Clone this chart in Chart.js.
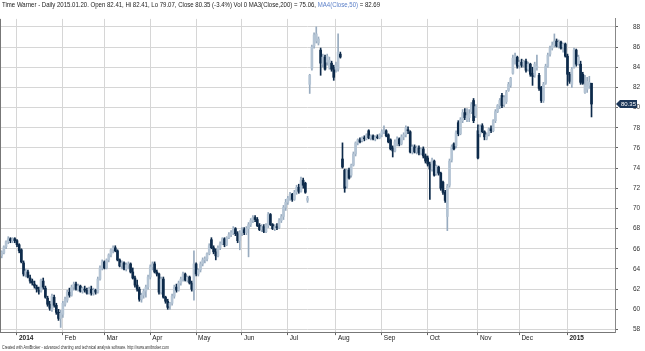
<!DOCTYPE html>
<html>
<head>
<meta charset="utf-8">
<script src="https://cdn.jsdelivr.net/npm/chart.js@4"></script>
<style>
  html, body { margin: 0; padding: 0; background: #fff; }
</style>
</head>
<body>
<canvas id="chart" width="645" height="351"></canvas>
<script>
// daily bars, 2013-12-20 .. 2015-01-20 (index = trading day)
const opens = [
  65.3,65.6,66.2,66.7,67.0,66.8,67.0,66.8,66.4,65.9,
  64.6,63.5,63.7,63.1,62.8,62.5,62.2,61.9,61.8,62.8,
  62.1,61.1,60.5,60.0,61.2,60.4,59.7,59.1,59.5,60.5,
  60.9,61.7,61.4,62.2,62.5,62.0,62.3,61.8,62.0,61.9,
  61.6,62.0,61.6,61.9,61.7,63.0,64.1,64.7,64.1,64.9,
  65.4,65.9,66.1,65.8,64.9,64.3,64.6,64.0,64.4,64.5,
  63.7,63.1,62.4,62.0,61.0,61.4,61.8,62.2,63.2,64.2,
  64.5,63.7,63.5,61.7,63.0,61.2,60.8,60.3,60.6,61.3,
  62.2,61.9,62.6,63.0,63.5,62.9,63.2,62.6,62.0,64.5,
  63.5,63.9,64.5,64.9,65.0,65.5,66.9,66.1,65.7,65.3,
  66.1,66.5,67.0,66.4,67.1,67.4,67.6,68.0,67.5,66.8,
  67.6,67.9,67.6,68.0,68.4,68.8,69.1,68.9,68.3,67.9,
  68.2,67.7,68.3,69.4,68.4,68.0,68.2,68.1,68.8,69.2,
  70.1,70.6,71.0,71.4,70.9,71.6,72.1,71.7,72.8,72.5,
  70.8,82.3,83.9,86.1,86.6,86.4,85.7,84.3,85.0,84.5,
  84.0,84.4,84.0,83.8,83.8,85.3,74.9,73.8,72.2,73.8,
  73.3,74.3,75.4,76.5,76.8,76.7,77.0,76.9,77.7,77.0,
  77.2,76.9,77.1,77.0,77.3,77.6,77.7,77.3,76.8,76.0,
  75.7,76.4,76.9,76.4,77.1,77.3,77.8,77.6,75.6,76.1,
  75.6,76.0,75.5,75.9,75.2,75.0,74.4,73.9,74.7,73.4,
  74.1,73.5,72.6,71.6,69.2,72.3,74.8,76.4,76.2,78.5,
  77.4,78.7,79.5,78.8,79.0,79.6,80.7,79.2,77.7,77.4,
  78.2,77.6,76.9,77.3,77.9,77.7,78.7,79.6,80.2,81.2,
  80.3,80.6,81.7,82.2,83.4,84.8,85.0,84.2,84.5,84.2,
  84.6,83.8,84.3,83.4,83.2,84.0,83.2,82.0,80.7,82.4,
  84.1,85.3,85.9,86.2,86.6,86.1,86.5,86.0,86.3,85.1,
  83.3,82.3,84.0,85.7,84.3,84.3,83.3,81.5,81.8,82.2,
  82.41
];
const highs = [
  65.8,66.3,66.8,67.2,67.1,67.1,67.1,66.9,66.5,66.0,
  64.8,64.0,63.9,63.4,63.0,62.8,62.4,62.2,63.0,63.1,
  62.3,61.3,60.8,61.5,61.4,60.6,60.0,59.9,60.8,61.2,
  61.9,62.1,62.4,62.7,62.7,62.5,62.4,62.2,62.3,62.1,
  62.2,62.3,62.1,62.0,63.2,64.3,64.9,64.8,65.0,65.5,
  66.0,66.3,66.3,65.9,65.0,64.8,64.7,64.6,64.7,64.6,
  64.1,63.3,62.9,62.2,61.6,62.0,62.4,63.4,64.4,64.7,
  64.7,63.9,63.6,63.2,63.2,61.3,61.0,60.7,61.5,62.4,
  62.5,62.8,63.2,63.7,63.6,63.3,63.3,62.8,65.8,64.6,
  64.0,64.7,65.1,65.2,65.6,66.5,67.1,66.3,66.0,66.3,
  66.7,67.1,67.1,67.2,67.6,67.8,68.2,68.1,67.7,67.8,
  68.1,68.1,68.2,68.6,69.0,69.3,69.3,69.1,68.5,68.4,
  68.4,68.5,69.6,69.5,68.5,68.4,68.5,69.0,69.4,70.3,
  70.9,71.2,71.6,71.5,71.8,72.3,72.4,73.1,73.0,72.6,
  71.2,83.3,86.2,87.4,88.0,87.0,85.9,85.3,85.2,85.3,
  85.0,84.6,84.2,84.5,87.3,85.5,76.5,73.9,73.9,74.0,
  74.4,75.6,76.6,76.9,77.0,77.1,77.2,77.4,77.8,77.3,
  77.3,77.2,77.3,77.4,77.8,78.2,77.8,77.4,76.9,76.2,
  76.8,77.1,77.0,77.3,77.5,78.2,78.1,77.7,76.3,76.3,
  76.2,76.2,76.0,76.1,75.4,75.2,74.6,75.0,74.8,74.3,
  74.2,73.6,72.7,71.8,72.4,74.9,76.3,76.5,77.7,78.7,
  79.0,79.8,79.9,79.9,79.8,80.5,80.9,80.3,78.3,78.3,
  78.4,77.7,77.5,78.0,78.2,78.8,79.8,80.3,80.9,81.4,
  81.2,81.7,82.5,83.0,85.2,85.4,85.1,84.7,84.8,84.7,
  84.8,84.5,84.4,84.0,84.5,85.2,83.4,82.1,82.5,84.3,
  85.4,86.1,86.5,87.3,86.8,86.7,86.6,86.4,86.4,85.3,
  83.5,84.0,85.9,85.8,85.2,84.6,83.5,83.2,83.0,83.1,
  82.41
];
const lows = [
  65.1,65.5,66.0,66.5,66.6,66.6,66.6,66.2,65.6,64.6,
  63.3,63.2,63.1,62.6,62.4,62.1,61.7,61.5,61.7,62.0,
  61.1,60.3,59.9,59.8,60.2,59.5,58.9,58.2,59.2,60.3,
  60.7,61.2,61.3,61.9,61.9,61.8,61.7,61.6,61.7,61.5,
  61.5,61.4,61.4,61.5,61.6,62.9,63.9,64.0,64.0,64.7,
  65.2,65.6,65.7,64.8,64.2,64.0,63.9,63.8,64.0,63.6,
  63.0,62.2,61.8,60.8,60.7,61.1,61.2,62.0,63.0,63.9,
  63.6,63.3,61.5,61.5,61.1,60.6,60.0,60.0,60.4,61.1,
  61.7,61.8,62.4,62.8,62.8,62.7,62.5,61.8,60.9,63.3,
  63.3,63.7,64.3,64.6,64.8,65.4,66.0,65.5,64.9,65.2,
  65.9,66.4,66.2,66.3,67.0,67.2,67.4,67.3,66.6,65.9,
  67.3,67.4,67.4,65.2,68.2,68.6,68.7,68.2,67.8,67.7,
  67.6,67.6,68.1,68.3,67.9,67.8,67.9,68.0,68.6,68.9,
  69.8,70.4,70.8,70.7,70.8,71.4,71.5,71.6,72.0,71.5,
  70.6,81.4,83.7,85.9,86.4,86.2,83.2,84.0,83.7,84.2,
  83.8,83.6,82.7,83.5,83.6,84.9,74.0,71.6,72.0,72.9,
  73.1,74.2,75.2,76.3,76.5,76.6,76.7,76.8,76.9,76.8,
  76.8,76.7,76.9,76.9,77.1,77.4,77.1,76.5,75.8,75.1,
  75.6,76.2,76.2,76.3,76.8,77.1,77.4,75.5,75.4,75.5,
  75.4,75.3,75.3,75.0,74.5,74.2,70.9,73.7,73.2,73.3,
  73.3,71.8,71.4,70.6,67.8,72.1,74.6,75.8,76.0,77.2,
  77.3,78.5,78.8,78.6,78.6,79.4,78.5,79.0,74.9,77.1,
  77.5,76.8,76.8,77.2,77.5,77.6,78.5,79.5,79.9,80.0,
  80.1,80.4,81.6,82.0,83.3,84.3,83.9,83.9,84.0,84.0,
  83.5,83.6,83.1,82.2,83.0,83.7,81.7,80.5,80.5,82.3,
  84.0,85.1,85.7,86.0,86.0,85.9,85.8,85.5,85.0,82.2,
  82.4,82.0,83.9,84.1,84.2,82.3,82.3,81.4,81.5,81.9,
  79.07
];
const closes = [
  65.7,66.2,66.7,67.0,66.8,67.0,66.8,66.4,65.8,64.7,
  63.5,63.8,63.2,62.8,62.6,62.3,62.0,61.8,62.9,62.2,
  61.2,60.5,60.1,61.3,60.4,59.7,59.1,59.6,60.6,61.0,
  61.7,61.4,62.2,62.5,62.0,62.3,61.8,62.1,61.9,61.6,
  62.0,61.6,61.9,61.7,63.0,64.1,64.7,64.1,64.9,65.4,
  65.9,66.1,65.8,64.9,64.3,64.6,64.0,64.4,64.5,63.7,
  63.1,62.4,62.0,61.0,61.4,61.8,62.2,63.2,64.2,64.5,
  63.7,63.5,61.7,63.0,61.2,60.8,60.2,60.6,61.3,62.2,
  61.9,62.6,63.0,63.5,62.9,63.2,62.6,62.0,64.5,63.5,
  63.9,64.5,64.9,65.0,65.5,66.3,66.1,65.7,65.3,66.1,
  66.5,67.0,66.4,67.1,67.4,67.6,68.0,67.5,66.8,67.6,
  67.9,67.6,68.0,68.4,68.8,69.1,68.9,68.3,67.9,68.2,
  67.7,68.3,69.4,68.4,68.0,68.2,68.1,68.8,69.2,70.1,
  70.6,71.0,71.4,70.9,71.6,72.1,71.7,72.8,72.3,71.6,
  71.0,83.2,86.0,87.2,87.3,86.8,84.4,85.0,83.8,85.1,
  84.7,83.8,83.0,84.2,85.5,85.0,74.1,72.0,73.8,73.0,
  74.3,75.4,76.5,76.8,76.6,77.0,76.9,77.3,77.0,77.2,
  76.9,77.1,77.0,77.3,77.6,77.7,77.2,76.6,75.9,75.7,
  76.6,76.9,76.4,77.1,77.3,78.0,77.7,75.6,76.1,75.6,
  76.0,75.5,75.9,75.2,74.7,74.4,73.9,74.8,73.3,74.2,
  73.5,72.0,71.6,70.8,72.2,74.7,76.1,75.9,77.5,77.4,
  78.8,79.5,79.0,79.2,79.4,80.3,78.7,80.1,75.0,78.1,
  77.6,77.1,77.3,77.9,77.7,78.7,79.6,80.2,80.7,80.2,
  81.0,81.5,82.3,82.9,84.9,85.1,84.1,84.5,84.2,84.6,
  83.7,84.3,83.3,83.1,84.3,84.1,81.9,80.7,82.3,84.1,
  85.2,85.9,86.2,86.6,86.1,86.5,85.9,86.3,85.1,83.3,
  82.6,83.8,85.7,84.3,85.0,82.5,82.4,82.2,82.6,82.5,
  80.35
];

// first trading day of each month (bar index) and its label
const monthStart = [7, 28, 47, 68, 89, 110, 131, 153, 174, 195, 218, 237, 259];
const monthNames = ["2014", "Feb", "Mar", "Apr", "May", "Jun", "Jul", "Aug", "Sep", "Oct", "Nov", "Dec", "2015"];
const priceTicks = [58, 60, 62, 64, 66, 68, 70, 72, 74, 76, 78, 80, 82, 84, 86, 88];

const titleMain = "Time Warner - Daily 2015.01.20. Open 82.41, Hi 82.41, Lo 79.07, Close 80.35 (-3.4%) Vol 0 MA3(Close,200) = 75.06, ";
const titleMa4 = "MA4(Close,50)";
const titleTail = " = 82.69";
const footer = "Created with AmiBroker - advanced charting and technical analysis software. http://www.amibroker.com";
const lastClose = 80.35;

const FONT = '"Liberation Sans", Arial, sans-serif';
const UP_BODY = '#b4c4d4';
const UP_WICK = '#98abbf';
const DOWN = '#0d2a4a';

const isUp = i => closes[i] >= opens[i];

const bodyData = opens.map((o, i) => ({ x: i, y: [o, closes[i]] }));
const wickData = opens.map((o, i) => ({ x: i, y: [lows[i], highs[i]] }));

// title, footer, left border and last-price badge
const decor = {
  id: 'decor',
  afterDraw(chart) {
    const ctx = chart.ctx;
    const area = chart.chartArea;
    ctx.save();
    ctx.strokeStyle = '#777';
    ctx.lineWidth = 1;
    ctx.beginPath();
    ctx.moveTo(0.5, area.top);
    ctx.lineTo(0.5, area.bottom);
    ctx.stroke();

    // title line
    ctx.font = '7.5px ' + FONT;
    ctx.textBaseline = 'top';
    const parts = [[titleMain, '#222'], [titleMa4, '#5a7fc8'], [titleTail, '#222']];
    const total = parts.reduce((s, p) => s + ctx.measureText(p[0]).width, 0);
    ctx.save();
    ctx.translate(2, 1.5);
    ctx.scale(378 / total, 1);
    let x = 0;
    parts.forEach(([t, col]) => {
      ctx.fillStyle = col;
      ctx.fillText(t, x, 0);
      x += ctx.measureText(t).width;
    });
    ctx.restore();

    // footer
    ctx.font = '4.5px ' + FONT;
    const fw = ctx.measureText(footer).width;
    ctx.save();
    ctx.translate(2, 345.5);
    ctx.scale(167 / fw, 1);
    ctx.fillStyle = '#333';
    ctx.fillText(footer, 0, 0);
    ctx.restore();

    // last price badge
    const y = chart.scales.y.getPixelForValue(lastClose);
    const x0 = area.right + 1;
    ctx.fillStyle = '#1b3658';
    ctx.beginPath();
    ctx.moveTo(x0, y);
    ctx.lineTo(x0 + 4, y - 4);
    ctx.lineTo(x0 + 21, y - 4);
    ctx.lineTo(x0 + 21, y + 4);
    ctx.lineTo(x0 + 4, y + 4);
    ctx.closePath();
    ctx.fill();
    ctx.fillStyle = '#fff';
    ctx.font = '6px ' + FONT;
    ctx.textBaseline = 'middle';
    ctx.fillText(lastClose.toFixed(2), x0 + 5, y + 0.5, 15);
    ctx.restore();
  }
};

new Chart(document.getElementById('chart'), {
  type: 'bar',
  data: {
    datasets: [
      {
        label: 'body',
        data: bodyData,
        barThickness: 2,
        minBarLength: 1,
        grouped: false,
        borderWidth: 0,
        backgroundColor: c => isUp(c.dataIndex) ? UP_BODY : DOWN
      },
      {
        label: 'wick',
        data: wickData,
        barThickness: 1,
        grouped: false,
        borderWidth: 0,
        backgroundColor: c => isUp(c.dataIndex) ? UP_WICK : DOWN
      }
    ]
  },
  options: {
    responsive: false,
    animation: false,
    devicePixelRatio: 1,
    layout: { padding: { top: 11, left: 0, right: 0, bottom: 0 } },
    plugins: { legend: { display: false }, tooltip: { enabled: false } },
    scales: {
      x: {
        type: 'linear',
        min: -0.78,
        max: 280.75,
        offset: false,
        afterBuildTicks: a => { a.ticks = monthStart.map(v => ({ value: v })); },
        afterFit: a => { a.height = 14; },
        grid: { color: '#d6d6d6', offset: false, tickLength: 3, tickColor: '#666' },
        border: { color: '#777' },
        ticks: {
          autoSkip: false,
          maxRotation: 0,
          align: 'start',
          labelOffset: 2,
          padding: -1,
          color: '#222',
          font: c => ({ family: FONT, size: 6.5, weight: (c.index === 0 || c.index === monthNames.length - 1) ? 'bold' : 'normal' }),
          callback: (v, i) => monthNames[i]
        }
      },
      y: {
        position: 'right',
        min: 57.74,
        max: 88.79,
        afterBuildTicks: a => { a.ticks = priceTicks.map(v => ({ value: v })); },
        afterFit: a => { a.width = 30; },
        grid: { color: '#d6d6d6', tickLength: 3, tickColor: '#666' },
        border: { color: '#888' },
        ticks: { padding: 15, color: '#333', font: { family: FONT, size: 6.5 } }
      }
    }
  },
  plugins: [decor]
});
</script>
</body>
</html>
